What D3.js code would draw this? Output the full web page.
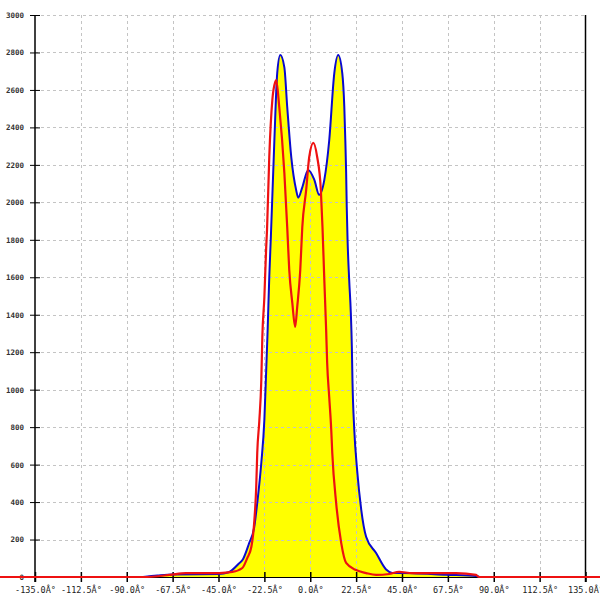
<!DOCTYPE html>
<html>
<head>
<meta charset="utf-8">
<script src="https://cdn.jsdelivr.net/npm/d3@7"></script>
<style>
  html, body { margin: 0; padding: 0; background: #fff; }
  svg { display: block; }
</style>
</head>
<body>
<svg id="chart" width="600" height="600"></svg>
<script>
// ---- data ----
const xTickValues = [-135, -112.5, -90, -67.5, -45, -22.5, 0, 22.5, 45, 67.5, 90, 112.5, 135];
const xTickLabels = ["-135.0Â°", "-112.5Â°", "-90.0Â°", "-67.5Â°", "-45.0Â°", "-22.5Â°", "0.0Â°",
                     "22.5Â°", "45.0Â°", "67.5Â°", "90.0Â°", "112.5Â°", "135.0Â°"];
const yTickValues = [0, 200, 400, 600, 800, 1000, 1200, 1400, 1600, 1800, 2000, 2200, 2400, 2600, 2800, 3000];

const blueAngles = [-82, -75, -67.5, -55, -45, -40, -35, -33, -30, -27.5, -26, -24, -22.5, -21.6, -20.9, -20.1, -19.3,
  -17.6, -16.2, -14.7, -12.7, -11.3, -9.3, -6.9, -5.9, -3.9, -1.0, 2.0, 4.4, 6.9, 9.3, 11.8, 13.7, 15.7, 16.7,
  17.2, 17.6, 17.9, 18.3, 19.1, 19.9, 20.4, 20.7, 21.6, 23.0, 25.0, 27.4, 32.3, 37.2, 40.2, 50, 66.6, 81.3, 83];
const blueValues = [0, 8, 14, 15, 16, 25, 72, 95, 180, 265, 395, 610, 840, 1105, 1318, 1600, 1820,
  2330, 2690, 2786, 2720, 2510, 2240, 2065, 2025, 2080, 2173, 2120, 2040, 2120, 2330, 2690, 2786, 2690, 2510,
  2330, 2160, 1975, 1800, 1585, 1410, 1230, 1050, 785, 570, 360, 215, 128, 40, 22, 20, 12, 5, 0];

const redAngles = [-180, -82, -69, -61, -44.6, -38.2, -33.3, -30.9, -28.9, -27.4, -26.5, -26.0, -25.0, -24.0, -23.5,
  -22.5, -21.6, -21.2, -20.1, -18.6, -17.2, -16.7, -15.2, -12.7, -11.3, -10.3, -8.8, -7.4, -6.4, -4.9, -3.9,
  -2.0, -0.5, 1.5, 3.4, 5.2, 6.0, 6.9, 7.8, 8.3, 9.3, 10.3, 10.8, 12.7, 15.2, 17.6, 22.5, 27.4, 32.3, 38.7,
  43.6, 50, 66.6, 71.5, 81.3, 82.8, 180];
const redValues = [0, 0, 11, 21, 21, 27, 48, 101, 160, 304, 480, 662, 830, 1052, 1281,
  1495, 1762, 1852, 2242, 2546, 2642, 2653, 2509, 2157, 1868, 1639, 1463, 1335, 1441, 1639, 1868,
  2066, 2242, 2317, 2242, 2066, 1868, 1585, 1318, 1142, 961, 785, 662, 395, 181, 75, 37, 21, 11, 16,
  27, 21, 21, 21, 11, 0, 0];

// ---- drawing ----
const svg = d3.select("#chart");
const x = d3.scaleLinear().domain([-135, 135]).range([35, 585.5]);
const y = d3.scaleLinear().domain([0, 3000]).range([577, 15]);

const blue = blueAngles.map((a, i) => [a, blueValues[i]]);
const red = redAngles.map((a, i) => [a, redValues[i]]);

// yellow fill under blue
const area = d3.area().x(d => x(d[0])).y0(y(0)).y1(d => y(d[1])).curve(d3.curveMonotoneX);
svg.append("path").datum(blue).attr("d", area).attr("fill", "#ffff00");

// grid
const grid = svg.append("g").attr("stroke", "#c4c4c4").attr("stroke-width", 1).attr("stroke-dasharray", "3,3");
grid.selectAll("line.h").data(yTickValues.filter(v => v > 0)).join("line")
  .attr("x1", x(-135)).attr("x2", x(135))
  .attr("y1", d => Math.round(y(d)) + 0.5).attr("y2", d => Math.round(y(d)) + 0.5);
grid.selectAll("line.v").data(xTickValues.filter(v => v > -135 && v < 135)).join("line")
  .attr("x1", d => Math.round(x(d)) + 0.5).attr("x2", d => Math.round(x(d)) + 0.5)
  .attr("y1", y(3000)).attr("y2", y(0));

// axes
const yAxis = d3.axisLeft(y).tickValues(yTickValues).tickFormat(d3.format("d"))
  .tickSizeInner(5).tickSizeOuter(0).tickPadding(6);
const gy = svg.append("g").attr("transform", `translate(${x(-135)},0)`).call(yAxis);
gy.selectAll(".tick line").attr("x1", 5).attr("x2", -5).attr("stroke", "#000");
gy.select(".domain").attr("stroke", "#000").attr("stroke-width", 1.5).attr("d", `M0,${y(3000)}V${y(0) + 5}`);
gy.selectAll(".tick text").attr("x", -11)
  .style("font-family", "'DejaVu Sans Mono', monospace").style("font-size", "7.5px")
  .style("font-weight", "bold").attr("fill", "#333");

const xAx = d3.axisBottom(x).tickValues(xTickValues).tickFormat((d, i) => xTickLabels[i])
  .tickSizeInner(5).tickSizeOuter(0).tickPadding(4);
const gx = svg.append("g").attr("transform", `translate(0,${y(0)})`).call(xAx);
gx.selectAll(".tick line").attr("y1", -5).attr("y2", 5).attr("stroke", "#000").attr("stroke-width", 1.5);
gx.select(".domain").attr("stroke", "#000");
gx.selectAll(".tick text").attr("y", 10)
  .style("font-family", "'DejaVu Sans Mono', monospace").style("font-size", "8.5px").attr("fill", "#222");

// right border line
svg.append("line").attr("x1", x(135)).attr("x2", x(135)).attr("y1", y(3000)).attr("y2", y(0) + 5)
  .attr("stroke", "#000").attr("stroke-width", 1.5);

// lines
const line = d3.line().x(d => x(d[0])).y(d => y(d[1])).curve(d3.curveMonotoneX);
svg.append("path").datum(blue).attr("d", line).attr("fill", "none").attr("stroke", "#0a0ad0").attr("stroke-width", 2);
svg.append("path").datum(red).attr("d", line).attr("fill", "none").attr("stroke", "#ee1111").attr("stroke-width", 2.2);
</script>
</body>
</html>
